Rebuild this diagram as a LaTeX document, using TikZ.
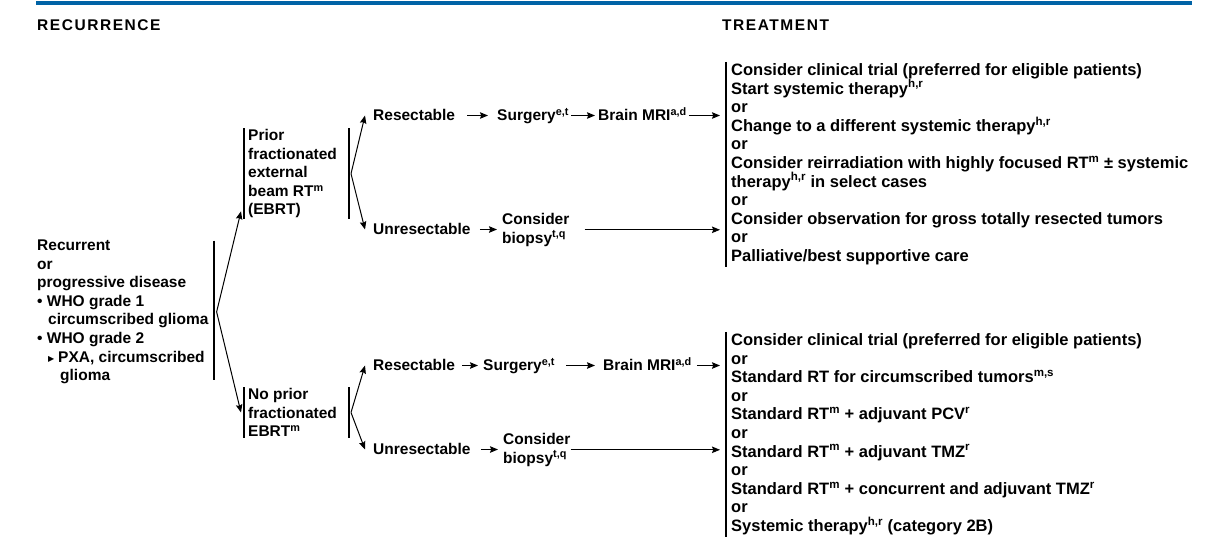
\documentclass[tikz,border=0pt]{standalone}
\usepackage{fontspec}
\setmainfont{Liberation Sans}
\newfontfamily\symfont{DejaVu Sans}
\usepackage{tikz}
\usetikzlibrary{positioning,arrows.meta}
\definecolor{nccnblue}{RGB}{0,99,166}
\newcommand{\supx}[1]{\textsuperscript{#1}}
\setlength{\lineskiplimit}{-20pt}

\begin{document}
\begin{tikzpicture}[x=1pt, y=-1pt,
      txt/.style  = {font=\fontsize{15.5}{18.6}\selectfont\bfseries,
                     inner sep=0pt, anchor=base west, align=left},
      one/.style  = {txt, text height=12pt, text depth=2pt},
      blk/.style  = {txt, inner xsep=4pt, inner ysep=1pt},
      trt/.style  = {font=\fontsize{16.5}{18.6}\selectfont\bfseries,
                     inner xsep=5pt, inner ysep=1.5pt, anchor=base west, align=left},
      head/.style = {font=\fontsize{15.5}{18.6}\selectfont\bfseries\addfontfeatures{LetterSpace=10},
                     inner sep=0pt, anchor=base west},
      bar/.style  = {line width=2pt},
      arr/.style  = {-{Stealth[length=8pt,width=6.5pt,inset=1.2pt]}, line width=1pt},
    ]
    \useasboundingbox (0,0) rectangle (1211,555);
    \draw[line width=4pt, nccnblue] (36,3) -- (1192,3);

    % headings
    \node[head] (hrec) at (37,30)  {RECURRENCE};
    \node[head] (htrt) at (722,30) {TREATMENT};

    % recurrence (multi-line nodes sit on their last baseline)
    \node[txt] (rec) at (37,380.7) {Recurrent\\or\\progressive disease\\
      \textbullet\ WHO grade 1\\\hspace*{11pt}circumscribed glioma\\
      \textbullet\ WHO grade 2\\
      \hspace*{11pt}\makebox[10pt][l]{\symfont\fontsize{8}{8}\selectfont\raisebox{1pt}{▶}}PXA, circumscribed\\
      \hspace*{23pt}glioma};
    \draw[bar] ([xshift=5pt,yshift=-1pt]rec.north east) -- ([xshift=5pt,yshift=4pt]rec.south east);

    \node[blk] (prior) at (244,214.9) {Prior\\fractionated\\external\\beam RT\supx{m}\\(EBRT)};
    \node[blk] (noprior) at (244,436.7) {No prior\\fractionated\\EBRT\supx{m}};
    \draw[bar] (prior.north west) -- (prior.south west);
    \draw[bar] (noprior.north west) -- (noprior.south west);
    \coordinate (fk0) at ([xshift=8pt]rec.east);
    \draw[arr] (fk0) -- ([xshift=-3pt,yshift=8pt]prior.south west);
    \draw[arr] (fk0) -- ([xshift=-3pt]noprior.west);

    % prior EBRT
    \node[one] (res1)   at (373,120.5) {Resectable};
    \node[one] (surg1)  at (497,120.5) {Surgery\supx{e,t}};
    \node[one] (mri1)   at (598,120.5) {Brain MRI\supx{a,d}};
    \node[one] (unres1) at (373,234.5) {Unresectable};
    \node[txt] (bio1)   at (502,243.1) {Consider\\biopsy\supx{t,q}};
    \draw[bar] ([xshift=105pt]prior.north west) -- ([xshift=105pt]prior.south west);
    \coordinate (fk1) at ([xshift=107pt]prior.west);
    \draw[arr] (fk1) -- ([xshift=-8pt]res1.west);
    \draw[arr] (fk1) -- ([xshift=-8pt]unres1.west);

    \node[trt] (tx1) at (726,261.5) {Consider clinical trial (preferred for eligible patients)\\
      Start systemic therapy\supx{h,r}\\or\\
      Change to a different systemic therapy\supx{h,r}\\or\\
      Consider reirradiation with highly focused RT\supx{m} ± systemic\\
      therapy\supx{h,r} in select cases\\or\\
      Consider observation for gross totally resected tumors\\or\\
      Palliative/best supportive care};
    \draw[bar] (tx1.north west) -- (tx1.south west);

    \draw[arr, shorten <=12pt, shorten >=9pt] (res1) -- (surg1);
    \draw[arr, shorten <=2pt, shorten >=3pt] (surg1) -- (mri1);
    \draw[arr, shorten <=2pt, shorten >=6pt] (mri1.east) -- (mri1.east -| tx1.west);
    \draw[arr, shorten <=9pt, shorten >=5pt] (unres1.east) -- (unres1.east -| bio1.west);
    \draw[arr, shorten <=15pt, shorten >=6pt] (bio1.east) -- (bio1.east -| tx1.west);

    % no prior EBRT
    \node[one] (res2)   at (373,370.5) {Resectable};
    \node[one] (surg2)  at (483,370.5) {Surgery\supx{e,t}};
    \node[one] (mri2)   at (603,370.5) {Brain MRI\supx{a,d}};
    \node[one] (unres2) at (373,454.5) {Unresectable};
    \node[txt] (bio2)   at (503,463.1) {Consider\\biopsy\supx{t,q}};
    \draw[bar] ([xshift=105pt]noprior.north west) -- ([xshift=105pt]noprior.south west);
    \coordinate (fk2) at ([xshift=107pt]noprior.west);
    \draw[arr] (fk2) -- ([xshift=-8pt]res2.west);
    \draw[arr] (fk2) -- ([xshift=-8pt]unres2.west);

    \node[trt] (tx2) at (726,531.5) {Consider clinical trial (preferred for eligible patients)\\or\\
      Standard RT for circumscribed tumors\supx{m,s}\\or\\
      Standard RT\supx{m} + adjuvant PCV\supx{r}\\or\\
      Standard RT\supx{m} + adjuvant TMZ\supx{r}\\or\\
      Standard RT\supx{m} + concurrent and adjuvant TMZ\supx{r}\\or\\
      Systemic therapy\supx{h,r} (category 2B)};
    \draw[bar] (tx2.north west) -- (tx2.south west);

    \draw[arr, shorten <=7pt, shorten >=5pt] (res2) -- (surg2);
    \draw[arr, shorten <=11pt, shorten >=8pt] (surg2) -- (mri2);
    \draw[arr, shorten <=5pt, shorten >=6pt] (mri2.east) -- (mri2.east -| tx2.west);
    \draw[arr, shorten <=10pt, shorten >=5pt] (unres2.east) -- (unres2.east -| bio2.west);
    \draw[arr, shorten <=0pt, shorten >=6pt] (bio2.east) -- (bio2.east -| tx2.west);
  \end{tikzpicture}
\end{document}
